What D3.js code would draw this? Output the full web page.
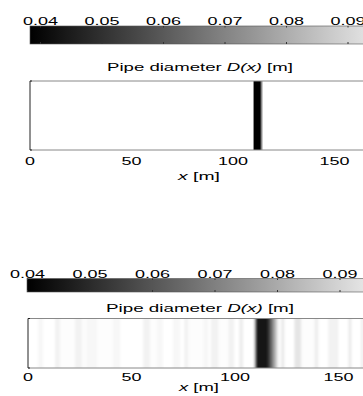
<!DOCTYPE html>
<html>
<head>
<meta charset="utf-8">
<script src="https://d3js.org/d3.v7.min.js"></script>
<style>
  body { margin: 0; background: #fff; }
  text { font-family: "Liberation Sans", Arial, sans-serif; fill: #000; }
</style>
</head>
<body>
<div id="chart"></div>
<script>
// colorbar tick values and x-axis ticks
var cbTicks = [0.04, 0.05, 0.06, 0.07, 0.08, 0.09];
var xTicks = [0, 50, 100, 150];

// top panel: D(x) cell left edges [m] and values [m]
var topX = [0, 110.0, 110.3, 113.6, 114.0, 114.4, 114.8];
var topD = [0.1, 0.066, 0.038, 0.058, 0.072, 0.088, 0.1];

// bottom panel: D(x) cell left edges [m] and values [m]
var botX = [0, 4.8, 7.3, 13, 15.5, 22.7, 26, 28.5, 33.4, 41, 44.5, 55.6, 59, 62.4, 65.3, 70, 73.5, 75.5, 77.4,
  84.7, 87, 88.5, 92, 96.8, 99.7, 102, 104, 109.3, 109.8, 110.2, 115.8, 116.8, 117.8, 118.8, 119.8, 120.6,
  122.4, 123.9, 128.7, 132, 138.4, 140.3, 145, 150, 154.8, 156.3, 161, 162];
var botD = [0.1, 0.098, 0.1, 0.097, 0.0995, 0.097, 0.099, 0.098, 0.0995, 0.098, 0.1, 0.097, 0.0995, 0.098, 0.1, 0.098, 0.1, 0.097, 0.0995,
  0.098, 0.0995, 0.097, 0.0995, 0.097, 0.1, 0.096, 0.1, 0.08, 0.062, 0.046, 0.052, 0.062, 0.072, 0.082, 0.09, 0.099,
  0.095, 0.1, 0.094, 0.0995, 0.096, 0.1, 0.097, 0.1, 0.095, 0.1, 0.095, 0.1];

var W = 363, H = 396;
var svg = d3.select("#chart").append("svg").attr("width", W).attr("height", H);
var defs = svg.append("defs");

// stretched text helper: centre cx, baseline y, target width w
function label(g, cx, y, size, w, parts) {
  var wrap = g.append("g").attr("transform", "translate(" + cx + "," + y + ")");
  var t = wrap.append("text").attr("text-anchor", "middle").style("font-size", size + "px");
  parts.forEach(function (p) {
    t.append("tspan").text(p[0]).style("font-style", p[1] ? "italic" : "normal");
  });
  var bw = t.node().getComputedTextLength();
  t.attr("transform", "scale(" + (w / bw) + ",1)");
}

var panels = [
  { xs: topX, ds: topD, cmin: 0.0383, cbY: 26, cbH: 18, cbLeft: 30, cb0: 40.5, cb9: 348, cbLab: 25, cbW: 35,
    titleY: 71, titleW: 186, titleSize: 11, boxY: 81, boxH: 69, x0: 30, x150: 334.5, blur: 0.5,
    tickY: 165, tickSize: 11.5, xlabY: 180, xlabW: 42, id: "g0" },
  { xs: botX, ds: botD, cmin: 0.04, cbY: 278.5, cbH: 13.5, cbLeft: 27, cb0: 27.5, cb9: 340, cbLab: 278, cbW: 35,
    titleY: 312, titleW: 188, titleSize: 10.5, boxY: 318.5, boxH: 49.5, x0: 28, x150: 338.5, blur: 1.3,
    tickY: 381, tickSize: 11, xlabY: 391, xlabW: 40, id: "g1" }
];

panels.forEach(function (p) {
  var g = svg.append("g");
  var color = d3.scaleLinear().domain([p.cmin, 0.1]).range(["#000", "#fff"]).clamp(true);

  // colorbar
  var cb = d3.scaleLinear().domain([0.04, 0.09]).range([p.cb0, p.cb9]);
  var grad = defs.append("linearGradient").attr("id", p.id)
    .attr("gradientUnits", "userSpaceOnUse")
    .attr("x1", cb(p.cmin)).attr("x2", cb(0.1)).attr("y1", 0).attr("y2", 0);
  d3.range(0, 11).forEach(function (i) {
    var v = p.cmin + (0.1 - p.cmin) * i / 10;
    grad.append("stop").attr("offset", i / 10).attr("stop-color", color(v));
  });
  g.append("rect").attr("x", p.cbLeft).attr("y", p.cbY)
    .attr("width", cb(0.1) - p.cbLeft).attr("height", p.cbH)
    .attr("fill", "url(#" + p.id + ")").attr("stroke", "#555").attr("stroke-width", 0.6);
  cbTicks.forEach(function (v) {
    g.append("line").attr("x1", cb(v)).attr("x2", cb(v))
      .attr("y1", p.cbY + p.cbH - 2).attr("y2", p.cbY + p.cbH).attr("stroke", "#333");
    g.append("line").attr("x1", cb(v)).attr("x2", cb(v))
      .attr("y1", p.cbY).attr("y2", p.cbY + 1.5).attr("stroke", "#333");
    label(g, cb(v), p.cbLab, 10.5, p.cbW, [[String(v)]]);
  });

  // title
  label(g, 200, p.titleY, p.titleSize, p.titleW, [["Pipe diameter "], ["D(x)", true], [" [m]"]]);

  // image strip, softly blurred along x and clipped to the box
  var x = d3.scaleLinear().domain([0, 150]).range([p.x0, p.x150]);
  var xEnd = 200;
  defs.append("clipPath").attr("id", "clip" + p.id).append("rect")
    .attr("x", x(0)).attr("y", p.boxY).attr("width", W - x(0)).attr("height", p.boxH);
  defs.append("filter").attr("id", "blur" + p.id).attr("x", "-5%").attr("width", "110%")
    .append("feGaussianBlur").attr("stdDeviation", p.blur + " 0");
  var cells = p.xs.map(function (v, i) {
    return { a: v, b: i + 1 < p.xs.length ? p.xs[i + 1] : xEnd, d: p.ds[i] };
  });
  g.append("g").attr("clip-path", "url(#clip" + p.id + ")")
    .append("g").attr("filter", "url(#blur" + p.id + ")")
    .selectAll(".cell").data(cells).enter().append("rect")
    .attr("x", function (d) { return x(d.a) - (d.a === 0 ? 5 : 0); })
    .attr("width", function (d) { return x(d.b) - x(d.a) + 0.3 + (d.a === 0 ? 5 : 0); })
    .attr("y", p.boxY).attr("height", p.boxH)
    .attr("fill", function (d) { return color(d.d); });

  // box
  g.append("line").attr("x1", x(0)).attr("x2", W).attr("y1", p.boxY).attr("y2", p.boxY).attr("stroke", "#888");
  g.append("line").attr("x1", x(0)).attr("x2", W).attr("y1", p.boxY + p.boxH).attr("y2", p.boxY + p.boxH).attr("stroke", "#888");
  g.append("line").attr("x1", x(0)).attr("x2", x(0)).attr("y1", p.boxY).attr("y2", p.boxY + p.boxH).attr("stroke", "#222");
  g.append("line").attr("x1", x(0)).attr("x2", x(0) + 2).attr("y1", p.boxY).attr("y2", p.boxY).attr("stroke", "#222");
  g.append("line").attr("x1", x(0)).attr("x2", x(0) + 2).attr("y1", p.boxY + p.boxH).attr("y2", p.boxY + p.boxH).attr("stroke", "#222");

  // x ticks
  xTicks.forEach(function (v) {
    var s = String(v);
    label(g, x(v), p.tickY, p.tickSize, s.length * 10, [[s]]);
  });
  label(g, 199, p.xlabY, p.tickSize, p.xlabW, [["x", true], [" [m]"]]);
});
</script>
</body>
</html>
